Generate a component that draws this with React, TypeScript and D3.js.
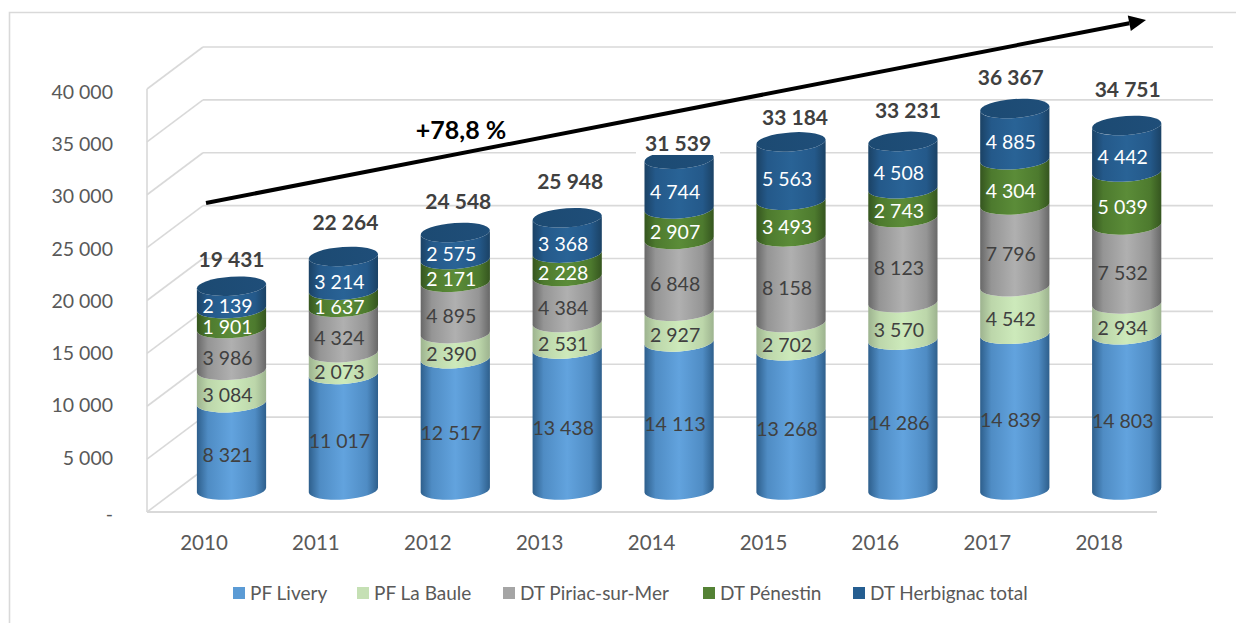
import React, { useEffect, useRef } from 'react';
import * as d3 from 'd3';

const years = ['2010', '2011', '2012', '2013', '2014', '2015', '2016', '2017', '2018'];
const seriesNames = ['PF Livery', 'PF La Baule', 'DT Piriac-sur-Mer', 'DT Pénestin', 'DT Herbignac total'];
const pfLivery = [8321, 11017, 12517, 13438, 14113, 13268, 14286, 14839, 14803];
const pfLaBaule = [3084, 2073, 2390, 2531, 2927, 2702, 3570, 4542, 2934];
const dtPiriac = [3986, 4324, 4895, 4384, 6848, 8158, 8123, 7796, 7532];
const dtPenestin = [1901, 1637, 2171, 2228, 2907, 3493, 2743, 4304, 5039];
const dtHerbignac = [2139, 3214, 2575, 3368, 4744, 5563, 4508, 4885, 4442];
const totals = [19431, 22264, 24548, 25948, 31539, 33184, 33231, 36367, 34751];
const yTicks = [0, 5000, 10000, 15000, 20000, 25000, 30000, 35000, 40000];

// the totals were moved by hand in the original, so they don't sit at a fixed distance
const totalNudgeX = [0, 2, 3, 3, -1, 4, 5, -4, 1];
const totalNudgeY = [-27, -34, -31, -36, -16, -24, -31, -31, -36];

const ramps = [
  { edge: '#2e5f8c', mid: '#4f8cc4', light: '#62a3de', swatch: '#5b9bd5' },
  { edge: '#9db38f', mid: '#bcd6aa', light: '#cdeabb', swatch: '#c5e0b4' },
  { edge: '#686868', mid: '#959595', light: '#b0b0b0', swatch: '#a5a5a5' },
  { edge: '#35551f', mid: '#4d7a2e', light: '#5b8c38', swatch: '#548235' },
  { edge: '#1b4265', mid: '#24598a', light: '#296396', swatch: '#255e91' },
];
const labelColors = ['#404040', '#404040', '#404040', '#ffffff', '#ffffff'];
const legendX = [233, 357, 503, 703, 853];

const FONT = 'Lato, sans-serif';
const RX = 34.7;
const RY = 9.5;
const TILT = -4;

const App = () => {
  const svgRef = useRef<SVGSVGElement>(null);

  useEffect(() => {
    const svg = d3.select(svgRef.current);
    svg.selectAll('*').remove();
    const fr = d3.formatLocale({ decimal: ',', thousands: ' ', grouping: [3], currency: ['', ''] });
    const num = fr.format(',d');

    const yFront = d3.scaleLinear().domain([0, 40000]).range([512, 89]);
    const yBack = d3.scaleLinear().domain([0, 40000]).range([470, 47]);
    const yLabel = d3.scaleLinear().domain([0, 40000]).range([510.3, 92]);
    const yBar = d3.scaleLinear().domain([0, 40000]).range([490, 70.4]);
    const xBar = d3.scalePoint().domain(years).range([231.5, 1126.7]);

    const rows = years.map((year, i) => ({
      year,
      [seriesNames[0]]: pfLivery[i],
      [seriesNames[1]]: pfLaBaule[i],
      [seriesNames[2]]: dtPiriac[i],
      [seriesNames[3]]: dtPenestin[i],
      [seriesNames[4]]: dtHerbignac[i],
    }));
    const stacked = d3.stack().keys(seriesNames)(rows as any);

    // gradients for the cylinder shading
    const defs = svg.append('defs');
    ramps.forEach((r, i) => {
      const g = defs.append('linearGradient').attr('id', `ramp${i}`);
      [[0, r.edge], [0.16, r.mid], [0.5, r.light], [0.84, r.mid], [1, r.edge]].forEach(([o, c]) => {
        g.append('stop').attr('offset', o as number).attr('stop-color', c as string);
      });
    });
    const topGrad = defs.append('linearGradient').attr('id', 'rampTop');
    topGrad.append('stop').attr('offset', 0).attr('stop-color', '#1c4a72');
    topGrad.append('stop').attr('offset', 1).attr('stop-color', '#1f4e79');

    // outer border, only top and left show in the picture
    svg.append('path').attr('d', 'M9.5,623V12.5H1236').attr('fill', 'none').attr('stroke', '#d9d9d9').attr('stroke-width', 1.6);

    // walls
    const grid = svg.append('g').attr('fill', 'none').attr('stroke', '#d9d9d9').attr('stroke-width', 1.6);
    yTicks.forEach((t) => {
      if (t > 0) grid.append('line').attr('x1', 203).attr('x2', 1213).attr('y1', yBack(t)).attr('y2', yBack(t));
      grid.append('line').attr('x1', 147).attr('x2', 203).attr('y1', yFront(t)).attr('y2', yBack(t));
    });
    grid.append('line').attr('x1', 147).attr('x2', 147).attr('y1', yFront(40000)).attr('y2', yFront(0));
    grid.append('line').attr('x1', 147).attr('x2', 1157).attr('y1', yFront(0)).attr('y2', yFront(0)).attr('stroke-width', 2);

    // y axis labels
    const yAxis = d3
      .axisLeft(yLabel)
      .tickValues(yTicks)
      .tickSize(0)
      .tickPadding(34)
      .tickFormat((d) => (+d === 0 ? '-' : num(+d)));
    const yG = svg.append('g').attr('transform', 'translate(147,0)').call(yAxis as any);
    yG.select('.domain').remove();
    yG.selectAll('text').attr('font-family', FONT).attr('font-size', 19.5).attr('fill', '#595959');
    yG.selectAll('text').filter((d) => +(d as number) === 0).attr('y', 3.5);

    // x axis labels, they sit left of the cylinders because of the 3D depth
    const xAxis = d3.axisBottom(xBar).tickSize(0).tickPadding(0);
    const xG = svg.append('g').attr('transform', 'translate(-28,535)').call(xAxis as any);
    xG.select('.domain').remove();
    xG.selectAll('text').attr('font-family', FONT).attr('font-size', 20.5).attr('fill', '#595959');

    const dx = RX * Math.cos((TILT * Math.PI) / 180);
    const dy = RX * Math.sin((TILT * Math.PI) / 180);

    const segment = (cx: number, y0: number, y1: number) =>
      `M${cx - dx},${y0 - dy}` +
      `A${RX},${RY} ${TILT} 0 0 ${cx + dx},${y0 + dy}` +
      `L${cx + dx},${y1 + dy}` +
      `A${RX},${RY} ${TILT} 0 1 ${cx - dx},${y1 - dy}Z`;

    // cylinders, bottom series first
    stacked.forEach((layer, s) => {
      svg
        .append('g')
        .selectAll('path')
        .data(layer)
        .enter()
        .append('path')
        .attr('d', (d, i) => segment(xBar(years[i]) as number, yBar(d[0]), yBar(d[1])))
        .attr('fill', `url(#ramp${s})`);
    });

    svg
      .append('g')
      .selectAll('ellipse')
      .data(totals)
      .enter()
      .append('ellipse')
      .attr('rx', RX)
      .attr('ry', RY)
      .attr('fill', 'url(#rampTop)')
      .attr('transform', (d, i) => `translate(${xBar(years[i])},${yBar(d)}) rotate(${TILT})`);

    // value labels inside the segments
    stacked.forEach((layer, s) => {
      svg
        .append('g')
        .selectAll('text')
        .data(layer)
        .enter()
        .append('text')
        .attr('x', (d, i) => (xBar(years[i]) as number) - 4)
        .attr('y', (d) => (yBar(d[0]) + yBar(d[1])) / 2 + 8.5)
        .attr('dy', '0.35em')
        .attr('text-anchor', 'middle')
        .attr('font-family', FONT)
        .attr('font-size', 19.5)
        .attr('fill', labelColors[s])
        .text((d) => num(d[1] - d[0]));
    });

    // totals on top, the 2014 one has a white box that cuts the cylinder
    svg
      .append('rect')
      .attr('x', 636)
      .attr('y', 127)
      .attr('width', 84)
      .attr('height', 28)
      .attr('fill', '#ffffff');
    svg
      .append('g')
      .selectAll('text')
      .data(totals)
      .enter()
      .append('text')
      .attr('x', (d, i) => (xBar(years[i]) as number) + totalNudgeX[i])
      .attr('y', (d, i) => yBar(d) + totalNudgeY[i])
      .attr('dy', '0.35em')
      .attr('text-anchor', 'middle')
      .attr('font-family', FONT)
      .attr('font-size', 21)
      .attr('font-weight', 700)
      .attr('fill', '#404040')
      .text((d) => num(d));

    // growth arrow
    const ax0 = 206;
    const ay0 = 203;
    const ax1 = 1146;
    const ay1 = 20;
    const ang = Math.atan2(ay1 - ay0, ax1 - ax0);
    const headLen = 17;
    const headHalf = 8;
    const bx = ax1 - headLen * Math.cos(ang);
    const by = ay1 - headLen * Math.sin(ang);
    svg.append('line').attr('x1', ax0).attr('y1', ay0).attr('x2', bx).attr('y2', by).attr('stroke', '#000').attr('stroke-width', 4);
    svg
      .append('path')
      .attr(
        'd',
        `M${ax1},${ay1}L${bx - headHalf * Math.sin(ang)},${by + headHalf * Math.cos(ang)}L${bx + headHalf * Math.sin(ang)},${by - headHalf * Math.cos(ang)}Z`
      )
      .attr('fill', '#000');
    svg
      .append('text')
      .attr('x', 461)
      .attr('y', 130)
      .attr('dy', '0.35em')
      .attr('text-anchor', 'middle')
      .attr('font-family', FONT)
      .attr('font-size', 25)
      .attr('font-weight', 700)
      .attr('fill', '#000')
      .text('+78,8 %');

    // legend
    const legend = svg
      .append('g')
      .selectAll('g')
      .data(seriesNames)
      .enter()
      .append('g')
      .attr('transform', (d, i) => `translate(${legendX[i]},587)`);
    legend
      .append('rect')
      .attr('width', 12)
      .attr('height', 12)
      .attr('fill', (d, i) => ramps[i].swatch);
    legend
      .append('text')
      .attr('x', 17)
      .attr('y', 6)
      .attr('dy', '0.35em')
      .attr('font-family', FONT)
      .attr('font-size', 19)
      .attr('fill', '#595959')
      .text((d) => d);

    return () => {
      svg.selectAll('*').remove();
    };
  }, []);

  return (
    <svg
      ref={svgRef}
      width={1236}
      height={623}
      style={{ position: 'absolute', left: 0, top: 0, background: '#fff' }}
    ></svg>
  );
};

export default App;
